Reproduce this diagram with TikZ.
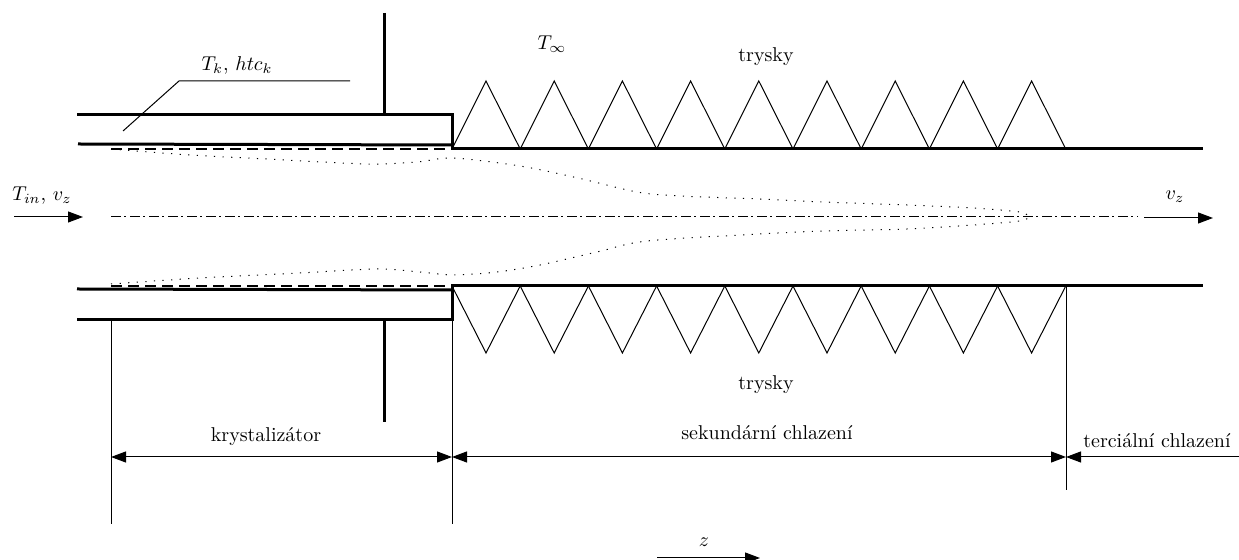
\documentclass[tikz,border=0pt]{standalone}
\usepackage{amsmath,amssymb}
\usepackage{xcolor}
\usepackage{tikz}
\usetikzlibrary{arrows.meta,positioning}

\begin{document}
\begin{tikzpicture}[x=0.5pt, y=-0.5pt,
    wall/.style={line width=1.5pt},
    thinline/.style={line width=0.5pt},
    film/.style={line width=1pt, dash pattern=on 5.5pt off 3pt},
    shell/.style={line width=0.5pt, dash pattern=on 0.6pt off 3.7pt},
    axisline/.style={line width=0.5pt, dash pattern=on 5pt off 1.7pt on 0.8pt off 2pt},
    flow/.style={line width=0.5pt, -{Triangle[length=7.5pt,width=5.5pt]}},
    span/.style={line width=0.5pt, {Triangle[length=7.5pt,width=5.5pt]}-{Triangle[length=7.5pt,width=5.5pt]}},
    lbl/.style={inner sep=0pt}]
    \useasboundingbox (0,0) rectangle (1239,560);
    % points
    \coordinate (mt) at (452,115); \coordinate (mb) at (452,320);
    \coordinate (st) at (452,149); \coordinate (sb) at (452,286);
    \coordinate (et) at (1203,149); \coordinate (eb) at (1203,286);
    \coordinate (e) at (1066,286);
    \coordinate (l) at (111,320);
    \coordinate (dl) at (111,457); \coordinate (dm) at (452,457);
    \coordinate (de) at (1066,457); \coordinate (dr) at (1239,457);
    % mould
    \draw[wall] (77,115) -- (mt) -- (st) -- (et);
    \draw[wall] (78,144) -- (452,145);
    \draw[wall] (77,289) -- (452,290);
    \draw[wall] (77,320) -- (mb) -- (sb) -- (eb);
    \draw[wall] (384,13) -- (384,115);
    \draw[wall] (384,320) -- (384,422);
    \draw[thinline] (123,131) -- (179,81) -- (350,81);
    % nozzles
    \foreach \i in {0,...,8} {
      \draw[thinline] ({452+68.2*\i},149) -- ({486+68.2*\i},81) -- ({520.2+68.2*\i},149);
      \draw[thinline] ({452+68.2*\i},286) -- ({486+68.2*\i},353) -- ({520.2+68.2*\i},286);
    }
    % shell
    \draw[film] (111,149) -- (448,149);
    \draw[film] (111,286) -- (448,286);
    \draw[shell] plot[smooth, tension=0.5] coordinates {(111,149) (190,155) (267,159) (367,164) (417,162) (453,158)
      (520,166) (578,178) (637,192) (680,196) (760,199) (823,202) (907,205) (973,208) (1020,212) (1029,217)};
    \draw[shell] plot[smooth, tension=0.5] coordinates {(111,284) (200,278) (300,273) (377,269) (420,272) (453,275)
      (497,272) (540,265) (597,252) (647,241) (760,234) (823,231) (907,229) (973,225) (1020,221) (1029,217)};
    \draw[axisline] (111,217) -- (1138,217);
    % flow
    \draw[flow] (14,217) -- (83,217);
    \draw[flow] (1144,218) -- (1213,218);
    \draw[flow] (657,558) -- (760,558);
    % dimensions
    \draw[thinline] (l) -- (111,524);
    \draw[thinline] (mb) -- (452,524);
    \draw[thinline] (e) -- (1066,490);
    \draw[span] (dl) -- (dm);
    \draw[span] (dm) -- (de);
    \draw[flow] (dr) -- (de);
    % labels
    \node[lbl] (tk) at (237,65) {$T_k$, $htc_k$};
    \node[lbl] (tinf) at (552,44) {$T_\infty$};
    \node[lbl] (noztop) at (766,57) {trysky};
    \node[lbl] (nozbot) at (766,385) {trysky};
    \node[lbl] (tin) at (42,196) {$T_{in}$, $v_z$};
    \node[lbl] (vout) at (1175,197) {$v_z$};
    \node[lbl] (kryst) at (266,437) {krystalizátor};
    \node[lbl] (sek) at (767,433) {sekundární chlazení};
    \node[lbl] (ter) at (1157,441) {terciální chlazení};
    \node[lbl] (zlab) at (704,542) {$z$};
\end{tikzpicture}
\end{document}
